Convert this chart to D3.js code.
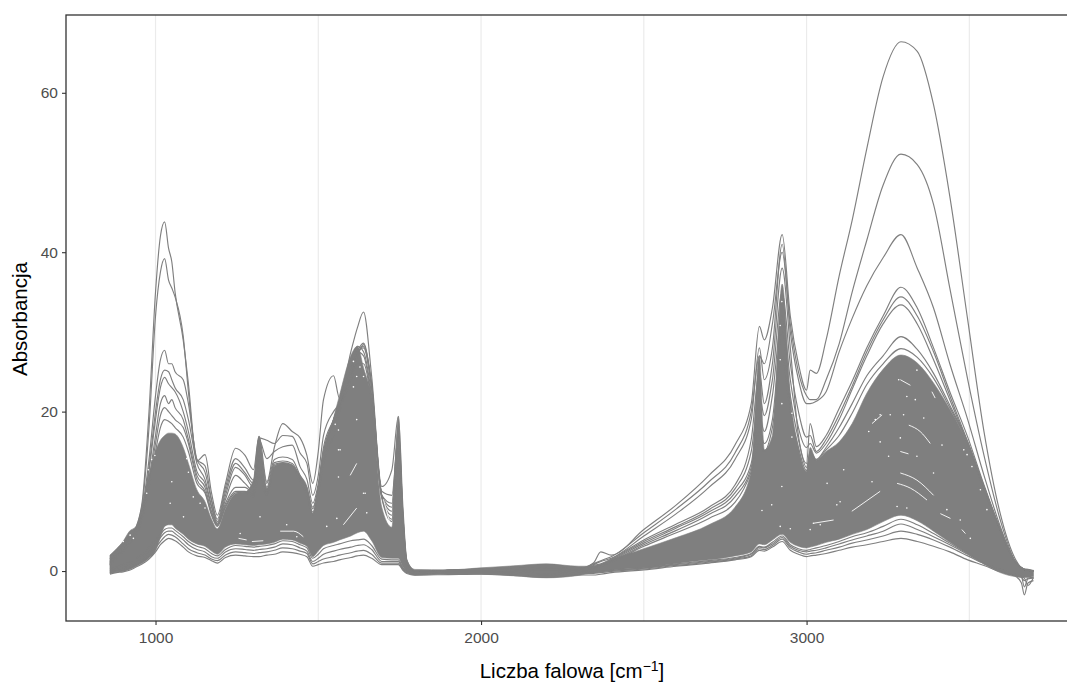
<!DOCTYPE html>
<html>
<head>
<meta charset="utf-8">
<style>
  body { margin: 0; background: #fff; }
  svg { display: block; }
  text { font-family: "Liberation Sans", Arial, sans-serif; }
  .axis text { fill: #4d4d4d; font-size: 15.5px; }
  .axis line { stroke: #333; stroke-width: 1.1; }
  .axis path { display: none; }
  .title { fill: #000; font-size: 20.5px; }
</style>
<script src="https://cdn.jsdelivr.net/npm/d3@7"></script>
</head>
<body>
<div id="chart"></div>
<script>
// wavenumber grid shared by all series
var wavenumbers = [
  860,880,900,920,940,960,980,1000,1015,1028,
  1040,1050,1060,1085,1101,1127,1152,1172,1190,1215,
  1246,1275,1301,1318,1342,1365,1391,1420,1444,1465,
  1483,1500,1516,1547,1565,1600,1620,1639,1664,1695,
  1726,1746,1760,1772,1797,
  1900,2000,2100,2200,2300,
  2345,2368,2400,2500,2600,2700,2780,
  2830,2855,2870,2895,2925,2950,2975,
  3000,3011,3030,3060,3100,3140,3185,3235,3290,3340,
  3390,3440,3495,3545,3595,3640,3660,3669,3680,3697];

// the spectra that stand out above the dense mass
var spec1 = [
  1.5,2.5,3.5,4.5,5.5,9,20,35,42,43.8,
  40.5,38.8,35,29,23.5,13.8,14.6,9.8,7,11,
  15.4,14.5,12.7,16.9,11.2,15.5,18.5,17.5,16.7,14.5,
  11,15,21.5,24.5,21.7,27.5,30.5,32.5,24.4,10.6,
  12.7,19.4,8,1.4,-0.1,
  0.1,0.2,0.3,0.4,0.3,
  1.0,2.4,2.0,5.2,8.3,12,15.8,
  21,30.7,29,33,42.2,32,26,
  22.7,25.2,24.8,29,37,44,53,62,66.4,65.2,
  58.5,47,31.5,17.5,7.2,1.6,0.4,0.2,0.2,0];
var spec2 = [
  1.2,2.2,3,4.2,5.3,8.5,18,32,37.5,39.2,
  36.5,35.5,34.4,29.5,22.5,14,13.2,9,6.5,10.5,
  14.1,12.9,11.4,16.7,16.4,16,17,16.9,14.8,13.5,
  9.5,12,17,20,21,25,27.5,28.6,23,10,
  9.5,17,7,1.2,-0.1,
  0.1,0.2,0.3,0.4,0.3,
  0.9,1.3,1.8,4.8,7.8,11.2,14.8,
  20,27,26,31,40,31,25,
  22,21.5,21.5,24,28.5,35,41.5,48.4,52.3,51,
  46,35.5,24,14.5,6.4,1.3,0.4,0.2,0.1,0];
var spec3 = [
  1.1,2.2,3,4,5.2,8,14,22,26.5,27.7,
  26,26,25,24,21,14,12.4,8.8,6.2,10,
  13.5,12.3,11,16.5,14.1,15,15.6,15.8,13.1,11.5,
  8.5,11,15.5,19,21,24.5,27,28.4,23.5,9.5,
  8.5,18,7,1,-0.2,
  0.1,0.2,0.3,0.3,0.2,
  0.8,1.2,1.6,4.4,7.2,10.5,14,
  19,28,24,28,41,30,24,
  21,21,21.3,22.5,27.5,31.7,35.8,39.3,42.2,38,
  33,26,19,12,5.6,1.2,0.4,0.2,0.1,0];
var spec4 = [
  1,2,2.8,3.8,5,7.5,13,20,24,25.2,
  25,24,23,21.5,19,13.5,11.5,8.2,6,9.5,
  13,12,10.5,15.5,11,14,14.3,14,12,10.5,
  8,10.5,15,18.5,20.5,24,27,28.2,23,9.5,
  8,17.5,6.5,0.9,-0.2,
  0.1,0.2,0.3,0.3,0.2,
  0.7,0.9,1.5,3.9,5.9,8,10.8,
  16.5,25,21,26,38,28,17,
  13.5,18.5,15.6,17,20.4,23.8,28,32,35.6,33,
  28,22.5,16.8,10.8,5.3,1.2,0.4,0.2,0.1,0];
var spec5 = [
  0.9,2,2.7,3.7,4.8,7.2,12.5,19,23,24.3,
  23.5,23,22.5,20,17.5,12.5,11,8,5.9,9,
  12,11,10,14,10.5,13.6,13.8,13.5,11.8,10.2,
  7.8,10.5,15,19,21,25,27.5,28,23,9.5,
  7.5,16,6.5,0.8,-0.2,
  0.1,0.2,0.3,0.3,0.2,
  0.6,0.8,1.4,3.7,5.6,7.7,10.3,
  15,22,19.5,24,35,26,20,
  16.8,17,15,16.5,19.6,23.2,27.5,31.5,34.4,32,
  27.5,22,16.2,10.4,5.2,1.2,0.4,0.2,0.1,0];
var spec6 = [
  0.8,1.8,2.6,3.6,4.6,7,11.5,17,21,22,
  21,21.5,20.5,19,16.5,12,10.5,7.5,5.8,8.5,
  10.5,10.5,9.8,14.5,10,13.4,13.6,13.3,11.5,10,
  7.4,10.2,14.5,19,21.2,25.5,28.2,27.5,22,9.3,
  7,15,6,0.7,-0.3,
  0.1,0.1,0.2,0.2,0.2,
  0.5,0.7,1.3,3.5,5.4,7.4,9.8,
  13.5,19.5,17.5,22,32,24,18,
  15.5,16,14.8,16,19,22.8,27,31,33.4,31,
  26.5,21.5,16,10.2,5.2,1.2,0.4,0.2,0.1,0];
var spec7 = [
  0.8,1.7,2.5,3.5,4.5,6.8,11,16,19.5,20.5,
  20,19.5,19,18,16,11.5,10,7.2,5.7,8.2,
  10,10,9.5,13,9.5,13.2,13.5,13.2,11.4,9.8,
  7.2,10,14,18.5,21,25,27.5,27,21.5,9.3,
  6.5,14,5.5,0.6,-0.3,
  0.1,0.1,0.2,0.2,0.2,
  0.5,0.7,1.2,3.3,5.1,7.1,9.3,
  13,17.5,16,19,30,22,16.5,
  13,15,14,15.5,18,21,24.5,27,29.4,27.8,
  24.8,20.8,16.2,10.6,5.2,1.2,0.4,0.2,0.1,0];
var spec8 = [
  0.7,1.6,2.4,3.4,4.4,6.6,10.5,15,18,19,
  18.8,18.5,18,16.8,15,11,9.8,7,5.6,8,
  9.8,9.9,9.3,12,9.4,13,13.4,13.1,11.2,9.6,
  7,9.8,13.5,17,20,24,26,26,21,9.2,
  6.2,13,5,0.5,-0.3,
  0.1,0.1,0.1,0.2,0.1,
  0.4,0.6,1.1,3.1,4.8,6.6,8.6,
  12.5,16,15,18,27,20,15.5,
  12.6,14.5,13.9,15.2,17,19.8,23.4,26,27.9,26.8,
  24.2,20.5,16.1,10.6,5.2,1.2,0.4,0.2,0.1,0];

// the weakest spectra, separate lines under the mass
var low1 = [
  -0.4,-0.2,-0.1,0.1,0.5,0.9,1.5,2.4,3.3,3.8,
  4.1,4,3.8,3,2.4,1.9,1.7,1.3,1,1.7,
  2,1.9,1.8,1.8,2,2.1,2.4,2.3,2.1,1.8,
  0.6,0.8,1,1.2,1.4,1.7,1.9,2,1.6,0.8,
  0.8,0.8,0.1,-0.3,-0.5,
  -0.45,-0.4,-0.55,-0.8,-0.5,
  -0.5,-0.4,-0.2,0.15,0.6,1,1.4,
  1.8,2.6,2.5,3,3.7,2.6,2.1,
  1.8,1.9,2,2.2,2.6,3,3.3,3.7,4.1,3.7,
  3.1,2.4,1.4,0.7,-0.1,-0.6,-1.5,-3,-1.5,-1.2];
var low2 = [
  -0.3,-0.1,0,0.3,0.7,1.2,1.9,2.9,3.7,4.3,
  4.6,4.5,4.3,3.4,2.8,2.3,2,1.5,1.3,2,
  2.4,2.3,2.2,2.3,2.4,2.6,2.9,2.8,2.5,2.2,
  0.9,1.2,1.5,1.8,2,2.3,2.5,2.6,2.1,1,
  1,1,0.2,-0.2,-0.4,
  -0.3,-0.3,-0.4,-0.5,-0.3,
  -0.3,-0.2,-0.05,0.25,0.7,1.1,1.5,
  1.9,2.8,2.7,3.2,4,2.9,2.4,
  2.1,2.2,2.3,2.6,3,3.5,3.9,4.4,5,4.6,
  3.9,3,1.9,0.9,0.1,-0.5,-0.8,-1.2,-0.9,-0.8];
var low3 = [
  0,0.2,0.4,0.7,1.1,1.6,2.4,3.4,4.2,4.8,
  5,5,4.7,3.9,3.3,2.7,2.4,1.8,1.6,2.4,
  2.8,2.7,2.6,2.7,2.8,3,3.4,3.3,2.9,2.5,
  1.2,1.6,2.1,2.5,2.7,3,3.2,3.3,2.7,1.2,
  1.2,1.2,0.3,-0.1,-0.3,
  -0.1,-0.1,-0.1,-0.2,-0.1,
  -0.2,-0.1,0.05,0.35,0.8,1.2,1.6,
  2.1,3,2.9,3.4,4.2,3.1,2.6,
  2.4,2.5,2.6,2.9,3.4,3.9,4.4,5,5.9,5.2,
  4.3,3.3,2.1,1,0.2,-0.4,-0.7,-2,-1,-0.9];
var low4 = [
  0.3,0.5,0.8,1.1,1.6,2.1,3,3.9,4.6,5.2,
  5.4,5.4,5.1,4.3,3.7,3.1,2.8,2.2,1.9,2.7,
  3.2,3.1,3,3.1,3.2,3.4,3.8,3.7,3.3,2.9,
  1.6,2.1,2.8,3.2,3.4,3.8,3.9,4,3.2,1.5,
  1.4,1.4,0.4,0,-0.3,
  0,0,0.1,0.1,0.1,
  -0.1,0,0.1,0.4,0.9,1.3,1.7,
  2.2,3.1,3,3.6,4.4,3.3,2.8,
  2.6,2.7,2.9,3.2,3.7,4.3,4.8,5.6,6.5,5.8,
  4.7,3.5,2.2,1,0.2,-0.4,-0.7,-0.9,-1.8,-0.8];

// lower and upper edge of the mass of overlapping spectra
var bulkLow = [
  -0.3,-0.1,0,0.2,0.6,1,1.6,2.5,4.2,5.6,
  5.8,5.8,5.4,4.6,4,3.4,3.1,2.5,2.1,3,
  3.4,3.3,3.2,3.3,3.4,3.6,4,3.9,3.5,3.1,
  1.8,2.5,3.2,3.6,3.9,4.4,4.8,5,3.8,1.7,
  1.6,1.6,0.5,-0.1,-0.55,
  -0.35,-0.4,-0.6,-0.85,-0.55,
  -0.2,-0.1,0.1,0.4,0.95,1.4,1.9,
  2.4,3.4,3.3,3.9,4.6,3.6,3.1,
  2.9,3,3.2,3.6,4,4.6,5.2,6.2,7,6.3,
  5,3.6,2.2,0.9,-0.2,-0.7,-0.8,-0.8,-0.8,-0.7];
var bulkHigh = [
  2,2.8,3.7,5,5.6,8.5,12,15,16.4,17,
  17.3,17.3,17.2,15.5,13.5,10.2,8.7,6.5,5.3,7.8,
  9.7,9.9,11.5,16.9,10.4,13.1,13.5,13.2,12,10.6,
  7.2,10,14.5,19.2,22,27,28.2,25.5,21.5,8,
  5.5,19.4,7,1.4,0.2,
  0.15,0.4,0.65,0.9,0.6,
  0.6,0.8,1.4,2.8,4.2,5.8,8,
  12.5,27,15.2,17,36,22,15.5,
  12.5,15.5,13.9,15,16.2,18.5,22.3,25.3,27.1,26.1,
  23.6,20.3,16,10.6,5.2,1.3,0.4,0.3,0.2,0.1];

// thin white slivers left between the lines inside the mass, [wavenumber, absorbance]
var gapStreaks = [
  [[1255,4.1],[1280,3.9]],
  [[1296,3.7],[1331,3.8]],
  [[1383,5],[1424,5],[1454,4.3]],
  [[1598,12],[1618,13.5]],
  [[1577,5.8],[1618,7.9]],
  [[1700,9],[1720,6]],
  [[3139,7.5],[3226,10]],
  [[3288,12.3],[3339,11.4],[3390,9.5]],
  [[3278,11],[3319,10.4],[3370,8.9]],
  [[3314,18.3],[3349,17.5],[3380,16]],
  [[3288,15],[3313,14.7]],
  [[3288,24],[3319,23.3]],
  [[3385,22.5],[3395,21.7]],
  [[3201,18.5],[3232,19.6]],
  [[3477,5.2],[3488,4.7]],
  [[3411,7.2],[3442,6.6]],
  [[3022,6],[3083,6.4]]];
var gapDots = [
  [1045,8.5],[1096,14.1],[1050,11.2],[1562,15.2],[1562,11.8],[1639,9.75],[1608,23.1],[1618,19],
  [973,9.75],[978,12.7],[988,14],[998,14.5],[901,3.7],[922,4.5],[932,4.1],[1086,6.8],[1116,9.3],
  [1101,12.4],[1137,8.5],[1152,7.9],[1260,4.7],[1321,6.8],[1403,5.8],[1434,4.3],[1526,5.6],[1557,6.6],
  [1552,18.4],[1562,17.7],[1567,15.2],[1618,24.4],[1608,26.3],[1628,25.6],[1644,9.75],[1639,24.4],[1649,7.3],
  [2924,33.8],[2919,30.8],[2919,26.5],[2924,21],[2955,19.8],[2955,16.8],
  [2924,10.6],[2893,8.3],[2863,7.6],[2919,5.6],[2950,5.3],[3021,6],[3042,5.8],[3103,8.7],
  [3226,19.6],[3211,19],[3283,24],[3308,21.9],[3334,21.5],[3257,19.6],[3298,19.6],[3360,19.2],[3191,17.5],
  [3226,16.2],[3288,16.7],[3416,15.8],[3483,15.2],[3493,14.6],[3508,13.1],[3339,14.4],[3252,14.4],
  [3114,12.7],[3063,11],[3011,5.2],[3093,8.3],[3201,11.2],[3390,12.3],[3472,6.4],[3503,4.1],[3534,10.2],
  [3554,7.7],[3431,7.7],[3278,8.1],[3308,7.9],[3339,25.2]];

var spectra = [spec1, spec2, spec3, spec4, spec5, spec6, spec7, spec8, low1, low2, low3, low4];

var majorBreaks = [1000, 2000, 3000];
var minorBreaks = [1500, 2500, 3500];
var yBreaks = [0, 20, 40, 60];

var width = 1067, height = 684;
var margin = {top: 15, right: 0, bottom: 63, left: 66};

var x = d3.scaleLinear().domain([725, 3800]).range([margin.left, width]);
var y = d3.scaleLinear().domain([-6.27, 69.76]).range([height - margin.bottom, margin.top]);

var svg = d3.select("#chart").append("svg")
    .attr("width", width)
    .attr("height", height);

// panel grid
svg.append("g").selectAll("line")
    .data(majorBreaks.concat(minorBreaks))
  .enter().append("line")
    .attr("x1", function(d) { return x(d); })
    .attr("x2", function(d) { return x(d); })
    .attr("y1", margin.top)
    .attr("y2", height - margin.bottom)
    .attr("stroke", "#ebebeb")
    .attr("stroke-width", 1.2);

// dense mass
var area = d3.area()
    .x(function(d) { return x(wavenumbers[d]); })
    .y0(function(d) { return y(bulkLow[d]); })
    .y1(function(d) { return y(bulkHigh[d]); })
    .curve(d3.curveMonotoneX);

svg.append("path")
    .attr("d", area(d3.range(wavenumbers.length)))
    .attr("fill", "#7f7f7f")
    .attr("stroke", "#7f7f7f")
    .attr("stroke-width", 0.6);

// separate spectra
var line = d3.line()
    .x(function(d, i) { return x(wavenumbers[i]); })
    .y(function(d) { return y(d); })
    .curve(d3.curveMonotoneX);

svg.append("g").selectAll("path")
    .data(spectra)
  .enter().append("path")
    .attr("d", line)
    .attr("fill", "none")
    .attr("stroke", "#7f7f7f")
    .attr("stroke-width", 1.15);

// slivers
var streak = d3.line()
    .x(function(d) { return x(d[0]); })
    .y(function(d) { return y(d[1]); })
    .curve(d3.curveMonotoneX);

svg.append("g").selectAll("path")
    .data(gapStreaks)
  .enter().append("path")
    .attr("d", streak)
    .attr("fill", "none")
    .attr("stroke", "#fff")
    .attr("stroke-width", 0.9);

svg.append("g").selectAll("circle")
    .data(gapDots)
  .enter().append("circle")
    .attr("cx", function(d) { return x(d[0]); })
    .attr("cy", function(d) { return y(d[1]); })
    .attr("r", 0.8)
    .attr("fill", "#fff");

// panel border, the right side runs off the page
svg.append("rect")
    .attr("x", margin.left)
    .attr("y", margin.top)
    .attr("width", width - margin.left + 5)
    .attr("height", height - margin.bottom - margin.top)
    .attr("fill", "none")
    .attr("stroke", "#333")
    .attr("stroke-width", 1.3);

svg.append("g")
    .attr("class", "axis")
    .attr("transform", "translate(0," + (height - margin.bottom) + ")")
    .call(d3.axisBottom(x).tickValues(majorBreaks).tickFormat(d3.format("d")).tickSize(4).tickPadding(7));

svg.append("g")
    .attr("class", "axis")
    .attr("transform", "translate(" + margin.left + ",0)")
    .call(d3.axisLeft(y).tickValues(yBreaks).tickSize(4).tickPadding(4));

var xTitle = svg.append("text")
    .attr("class", "title")
    .attr("x", 572)
    .attr("y", 678)
    .attr("text-anchor", "middle");
xTitle.append("tspan").text("Liczba falowa [cm");
xTitle.append("tspan").attr("dy", -7).attr("font-size", 14).text("\u22121");
xTitle.append("tspan").attr("dy", 7).text("]");

svg.append("text")
    .attr("class", "title")
    .attr("transform", "translate(27,319) rotate(-90)")
    .attr("text-anchor", "middle")
    .text("Absorbancja");
</script>
</body>
</html>
